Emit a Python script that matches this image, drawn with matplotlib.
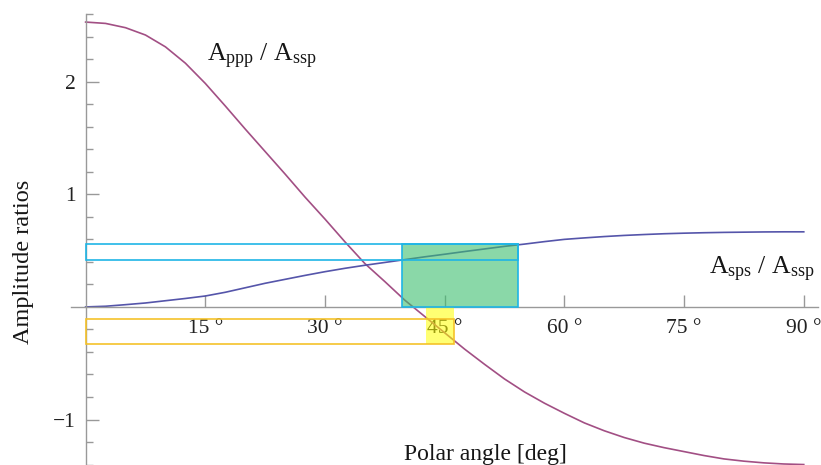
import matplotlib
matplotlib.use("Agg")
import matplotlib.pyplot as plt
import matplotlib.patches as patches

plt.rcParams["font.family"] = ["Liberation Serif", "DejaVu Serif"]
plt.rcParams["mathtext.fontset"] = "custom"
plt.rcParams["mathtext.rm"] = "Liberation Serif"
plt.rcParams["mathtext.it"] = "Liberation Serif:italic"

# ---------------------------------------------------------------------------
# Data
# ---------------------------------------------------------------------------
angle = [0, 2.5, 5, 7.5, 10, 12.5, 15, 17.5, 20, 22.5, 25, 27.5, 30, 32.5,
         35, 37.5, 40, 42.5, 45, 47.5, 50, 52.5, 55, 57.5, 60, 62.5, 65,
         67.5, 70, 72.5, 75, 77.5, 80, 82.5, 85, 87.5, 90]

ppp_ssp = [2.53, 2.518, 2.48, 2.415, 2.31, 2.165, 1.985, 1.785, 1.58, 1.38,
           1.18, 0.975, 0.78, 0.578, 0.385, 0.225, 0.06, -0.085, -0.23,
           -0.375, -0.51, -0.64, -0.755, -0.855, -0.945, -1.03, -1.10,
           -1.16, -1.21, -1.25, -1.285, -1.32, -1.35, -1.37, -1.385,
           -1.395, -1.40]

sps_ssp = [0.0, 0.006, 0.02, 0.035, 0.055, 0.075, 0.097, 0.13, 0.17, 0.21,
           0.245, 0.28, 0.313, 0.343, 0.37, 0.395, 0.42, 0.445, 0.468,
           0.492, 0.515, 0.538, 0.558, 0.58, 0.60, 0.613, 0.625, 0.635,
           0.643, 0.65, 0.655, 0.659, 0.662, 0.664, 0.666, 0.667, 0.667]

x_ticks = [15, 30, 45, 60, 75, 90]
x_tick_labels = ["15 °", "30 °", "45 °", "60 °", "75 °", "90 °"]
y_ticks = [-1, 1, 2]
y_tick_labels = ["\u22121", "1", "2"]

# highlighted ranges: (x0, x1, y0, y1)
cyan_box = (0, 54.2, 0.414, 0.561)
green_box = (39.6, 54.2, 0.0, 0.561)
yellow_box = (0, 46.2, -0.33, -0.107)
yellow_fill = (42.7, 46.2, -0.33, 0.0)

# ---------------------------------------------------------------------------
# Colors
# ---------------------------------------------------------------------------
C_PPP = "#a24f84"
C_SPS = "#5555aa"
C_AXIS = "#999999"
C_CYAN = "#1fb5e6"
C_GREEN = "#3cbe6e"
C_YEL_EDGE = "#f5c22a"
C_YEL_FILL = "#ffff00"
C_TEXT = "#161616"


def box(ax, b, **kw):
    x0, x1, y0, y1 = b
    ax.add_patch(patches.Rectangle((x0, y0), x1 - x0, y1 - y0, **kw))


fig = plt.figure(figsize=(8.21, 4.65), dpi=100)
ax = fig.add_axes([0, 0, 1, 1])
ax.set_xlim(-10.73, 92.16)
ax.set_ylim(-1.404, 2.726)

ax.plot(angle, ppp_ssp, color=C_PPP, lw=1.2, zorder=2)
ax.plot(angle, sps_ssp, color=C_SPS, lw=1.2, zorder=2)

# highlight boxes
box(ax, green_box, facecolor=C_GREEN, alpha=0.6, edgecolor="none", zorder=3)
box(ax, green_box, facecolor="none", edgecolor=C_CYAN, lw=1.2, zorder=4)
box(ax, cyan_box, facecolor="none", edgecolor=C_CYAN, lw=1.2, zorder=4)
box(ax, yellow_fill, facecolor=C_YEL_FILL, alpha=0.55, edgecolor="none", zorder=3)
box(ax, yellow_box, facecolor="none", edgecolor=C_YEL_EDGE, lw=1.2, zorder=4)

# --- Axes through origin, Mathematica style ---
for s in ["top", "right"]:
    ax.spines[s].set_visible(False)
ax.spines["left"].set_position(("data", 0))
ax.spines["bottom"].set_position(("data", 0))
ax.spines["left"].set_bounds(-1.404, 2.6)
ax.spines["bottom"].set_bounds(-1.8, 91.8)
for s in ["left", "bottom"]:
    ax.spines[s].set_color(C_AXIS)
    ax.spines[s].set_linewidth(1.0)

ax.set_xticks(x_ticks)
ax.set_xticklabels(x_tick_labels)
ax.set_yticks(y_ticks)
ax.set_yticklabels(y_tick_labels)
minor_y = [v / 5 for v in range(-7, 14) if v % 5 != 0]
ax.set_yticks(minor_y, minor=True)
ax.tick_params(axis="both", which="major", direction="in", length=9,
               width=1.0, color=C_AXIS, labelsize=15.5, labelcolor="#222222")
ax.tick_params(axis="y", which="minor", direction="in", length=5,
               width=1.0, color=C_AXIS)
ax.tick_params(axis="x", pad=9)
ax.tick_params(axis="y", pad=7)

# --- Labels ---
ax.text(22.07, 2.18, r"A$_{\rm ppp}$ / A$_{\rm ssp}$", fontsize=18.5,
        ha="center", va="baseline", color=C_TEXT)
ax.text(84.7, 0.29, r"A$_{\rm sps}$ / A$_{\rm ssp}$", fontsize=18.5,
        ha="center", va="baseline", color=C_TEXT)
ax.text(50.05, -1.36, "Polar angle [deg]", fontsize=17,
        ha="center", va="baseline", color=C_TEXT)
fig.text(23 / 821, 1 - 262 / 465, "Amplitude ratios", fontsize=17.5,
         rotation=90, ha="center", va="center", color=C_TEXT)

fig.savefig("out.png", dpi=100)
plt.close(fig)
